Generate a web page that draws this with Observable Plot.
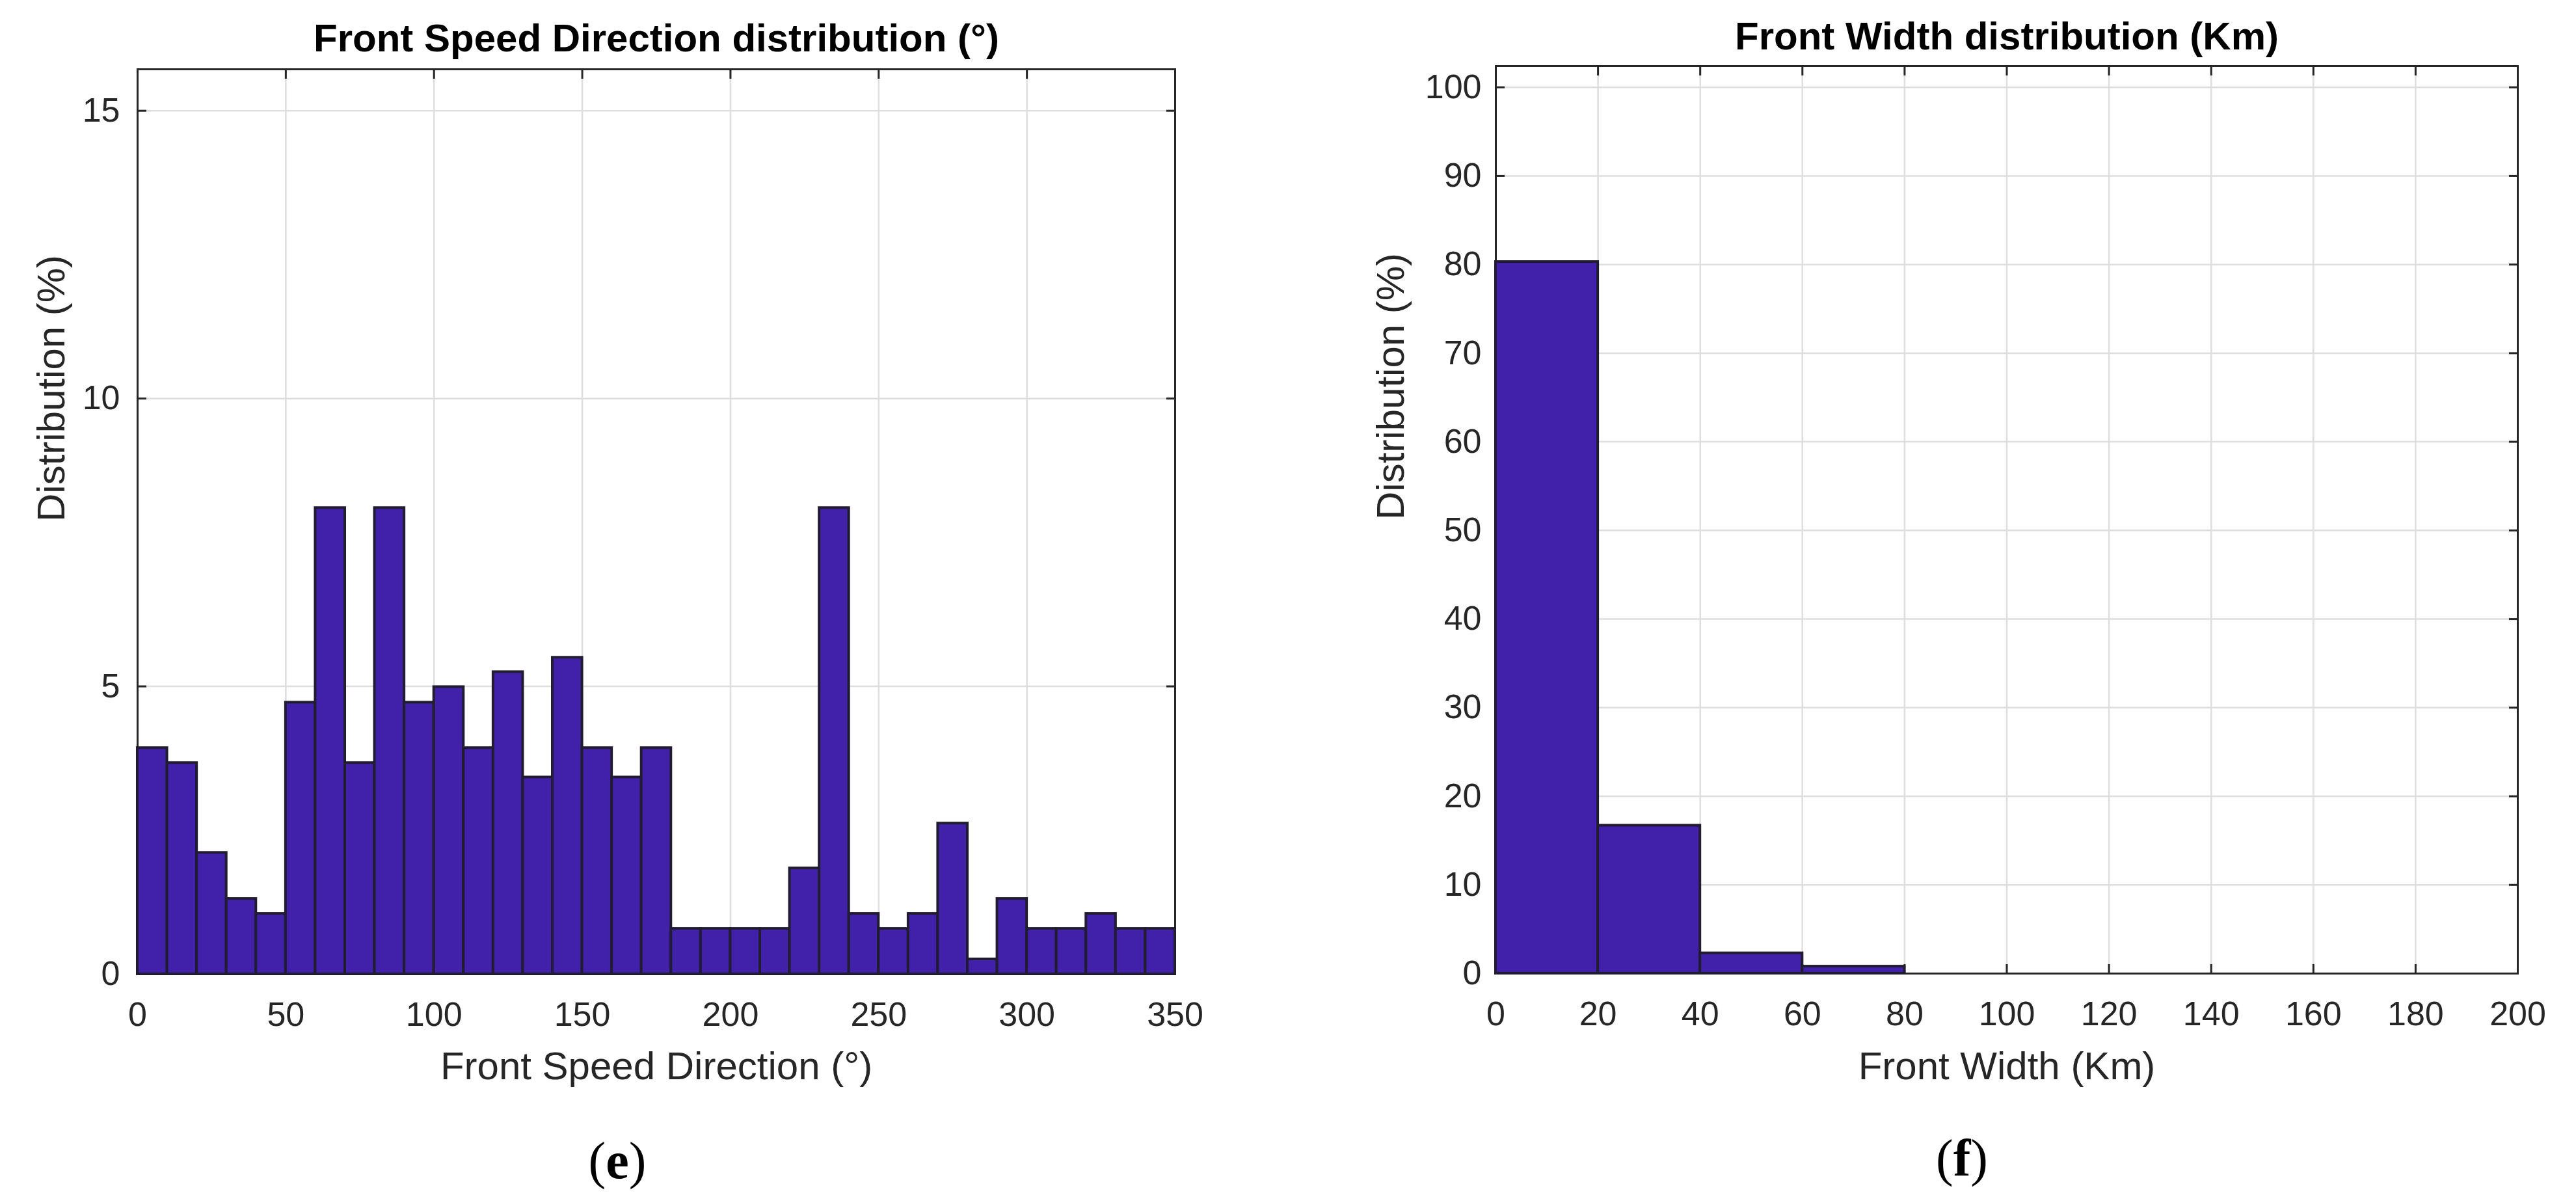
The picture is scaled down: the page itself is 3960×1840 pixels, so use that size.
<!DOCTYPE html>
<html>
<head>
<meta charset="utf-8">
<script src="https://cdn.jsdelivr.net/npm/d3@7"></script>
<script src="https://cdn.jsdelivr.net/npm/@observablehq/plot@0.6"></script>
<style>
  html, body { margin: 0; padding: 0; background: #fff; }
  #wrap { position: relative; width: 3960px; height: 1840px; background: #fff; overflow: hidden; }
  .panel { position: absolute; top: 0; }
  .tag { position: absolute; font-family: "Liberation Serif", "Times New Roman", serif; font-size: 80px;
         line-height: 80px; color: #000; white-space: nowrap; transform: translateX(-50%); }
  .tag b { font-weight: bold; }
</style>
</head>
<body>
<div id="wrap"></div>
<script>
// ---------- data: panel (e) ----------
const dirTitle = "Front Speed Direction distribution (°)";
const dirXLabel = "Front Speed Direction (°)";
const dirBinStart = [0, 10, 20, 30, 40, 50, 60, 70, 80, 90, 100, 110, 120, 130, 140, 150, 160, 170,
  180, 190, 200, 210, 220, 230, 240, 250, 260, 270, 280, 290, 300, 310, 320, 330, 340];
const dirBinEnd = [10, 20, 30, 40, 50, 60, 70, 80, 90, 100, 110, 120, 130, 140, 150, 160, 170, 180,
  190, 200, 210, 220, 230, 240, 250, 260, 270, 280, 290, 300, 310, 320, 330, 340, 350];
const dirValues = [3.93, 3.67, 2.11, 1.31, 1.05, 4.72, 8.1, 3.67, 8.1, 4.72, 4.99, 3.93, 5.25, 3.42,
  5.5, 3.93, 3.42, 3.93, 0.79, 0.79, 0.79, 0.79, 1.84, 8.1, 1.05, 0.79, 1.05, 2.62, 0.26, 1.31,
  0.79, 0.79, 1.05, 0.79, 0.79];
const dirXTicks = [0, 50, 100, 150, 200, 250, 300, 350];
const dirYTicks = [0, 5, 10, 15];
const dirXDomain = [0, 350];
const dirYDomain = [0, 15.72];

// ---------- data: panel (f) ----------
const widthTitle = "Front Width distribution (Km)";
const widthXLabel = "Front Width (Km)";
const widthBinStart = [0, 20, 40, 60];
const widthBinEnd = [20, 40, 60, 80];
const widthValues = [80.3, 16.7, 2.3, 0.8];
const widthXTicks = [0, 20, 40, 60, 80, 100, 120, 140, 160, 180, 200];
const widthYTicks = [0, 10, 20, 30, 40, 50, 60, 70, 80, 90, 100];
const widthXDomain = [0, 200];
const widthYDomain = [0, 102.4];

const yLabel = "Distribution (%)";
const panelTags = ["e", "f"];

// ---------- drawing ----------
const FONT = "'Liberation Sans', Arial, Helvetica, sans-serif";
const INK = "#262626";
const BAR = "#4121a9";
const EDGE = "#221c33";
const GRID = "#dedede";
const intFmt = d3.format("d");

function histPanel(cfg) {
  const bins = cfg.starts.map((s, i) => ({x1: s, x2: cfg.ends[i], v: cfg.values[i]}));
  const tickStyle = {fill: "none", stroke: INK, strokeWidth: 3, label: null};
  return Plot.plot({
    width: cfg.width,
    height: cfg.height,
    marginLeft: cfg.ml, marginRight: cfg.mr, marginTop: cfg.mt, marginBottom: cfg.mb,
    style: {fontFamily: FONT, fontSize: "52px", color: INK, background: "transparent", overflow: "visible"},
    x: {domain: cfg.xDomain},
    y: {domain: cfg.yDomain},
    marks: [
      Plot.gridX(cfg.xTicks, {stroke: GRID, strokeOpacity: 1, strokeWidth: 2.5}),
      Plot.gridY(cfg.yTicks, {stroke: GRID, strokeOpacity: 1, strokeWidth: 2.5}),
      Plot.frame({stroke: INK, strokeWidth: 3}),
      Plot.axisX(cfg.xTicks, {anchor: "bottom", tickSize: -14, ...tickStyle}),
      Plot.axisX(cfg.xTicks, {anchor: "top", tickSize: -14, ...tickStyle}),
      Plot.axisY(cfg.yTicks, {anchor: "left", tickSize: -14, ...tickStyle}),
      Plot.axisY(cfg.yTicks, {anchor: "right", tickSize: -14, ...tickStyle}),
      Plot.rectY(bins, {x1: "x1", x2: "x2", y: "v", fill: BAR, stroke: EDGE, strokeWidth: 4}),
      Plot.axisX(cfg.xTicks, {anchor: "bottom", tickSize: 0, tickPadding: 43, fontSize: 52,
        tickFormat: intFmt, label: null}),
      Plot.axisY(cfg.yTicks, {anchor: "left", tickSize: 0, tickPadding: cfg.yPad, fontSize: 52,
        tickFormat: intFmt, label: null}),
      Plot.text([cfg.title], {text: d => d, frameAnchor: "top", dy: cfg.titleDy, lineAnchor: "bottom",
        fontSize: 60, fontWeight: "bold", fill: "#000"}),
      Plot.text([cfg.xLabel], {text: d => d, frameAnchor: "bottom", dy: cfg.xLabelDy, lineAnchor: "bottom",
        fontSize: 60, fill: INK}),
      Plot.text([yLabel], {text: d => d, frameAnchor: "left", dx: cfg.yLabelDx, rotate: -90,
        lineAnchor: "bottom", fontSize: 60, fill: INK})
    ]
  });
}

const wrap = document.getElementById("wrap");

const left = histPanel({
  title: dirTitle, xLabel: dirXLabel,
  starts: dirBinStart, ends: dirBinEnd, values: dirValues,
  xTicks: dirXTicks, yTicks: dirYTicks, xDomain: dirXDomain, yDomain: dirYDomain,
  width: 1930, height: 1700, ml: 211, mr: 124, mt: 106, mb: 203,
  yPad: 27, titleDy: -28, xLabelDy: 161, yLabelDx: -113
});
left.classList.add("panel");
left.style.left = "0px";
wrap.appendChild(left);

const right = histPanel({
  title: widthTitle, xLabel: widthXLabel,
  starts: widthBinStart, ends: widthBinEnd, values: widthValues,
  xTicks: widthXTicks, yTicks: widthYTicks, xDomain: widthXDomain, yDomain: widthYDomain,
  width: 2000, height: 1700, ml: 339, mr: 90, mt: 101, mb: 204,
  yPad: 22, titleDy: -26, xLabelDy: 162, yLabelDx: -142
});
right.classList.add("panel");
right.style.left = "1960px";
wrap.appendChild(right);

const tagPos = [{x: 949, top: 1744}, {x: 3016, top: 1740}];
panelTags.forEach((t, i) => {
  const d = document.createElement("div");
  d.className = "tag";
  d.style.left = tagPos[i].x + "px";
  d.style.top = tagPos[i].top + "px";
  d.innerHTML = "(<b>" + t + "</b>)";
  wrap.appendChild(d);
});
</script>
</body>
</html>
